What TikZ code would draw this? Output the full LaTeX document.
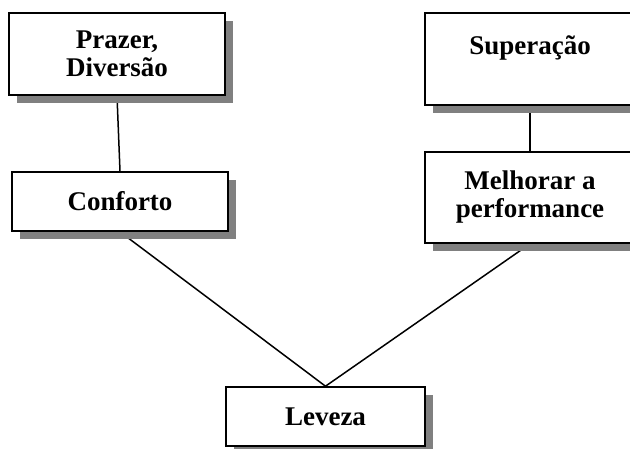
\documentclass[tikz,border=0pt]{standalone}
\usepackage{fontspec}
\setmainfont{Liberation Serif}
\usetikzlibrary{shadows,backgrounds}
\definecolor{shadowgray}{RGB}{128,128,128}
\tikzset{
  box/.style={draw=black, line width=1.6pt, fill=white, align=center, inner sep=0pt,
    font=\fontsize{27}{28}\selectfont\bfseries,
    drop shadow={shadow xshift=8pt, shadow yshift=-8pt, fill=shadowgray, opacity=1}},
  link/.style={draw=black, line width=1.5pt}
}
\begin{document}
\begin{tikzpicture}[x=1pt,y=-1pt]
\useasboundingbox (0,0) rectangle (630,448);
\clip (0,0) rectangle (630,448);
\node[box, minimum width=216pt, minimum height=82pt] (prazer) at (117,54) {Prazer,\\Diversão};
\node[box, minimum width=210pt, minimum height=92pt] (super) at (530,59) {Superação\\\mbox{}};
\node[box, minimum width=210pt, minimum height=91pt] (melhor) at (530,197.5) {Melhorar a\\performance};
\node[box, minimum width=216pt, minimum height=59pt] (conf) at (120,201.5) {Conforto};
\node[box, minimum width=199pt, minimum height=59pt] (leve) at (325.5,416.5) {Leveza};
\begin{scope}[on background layer]
\draw[link] (prazer.south) -- (conf.north);
\draw[link] (super.south) -- (melhor.north);
\draw[link] (conf.south) -- (leve.north);
\draw[link] (melhor.south) -- (leve.north);
\end{scope}
\end{tikzpicture}
\end{document}
